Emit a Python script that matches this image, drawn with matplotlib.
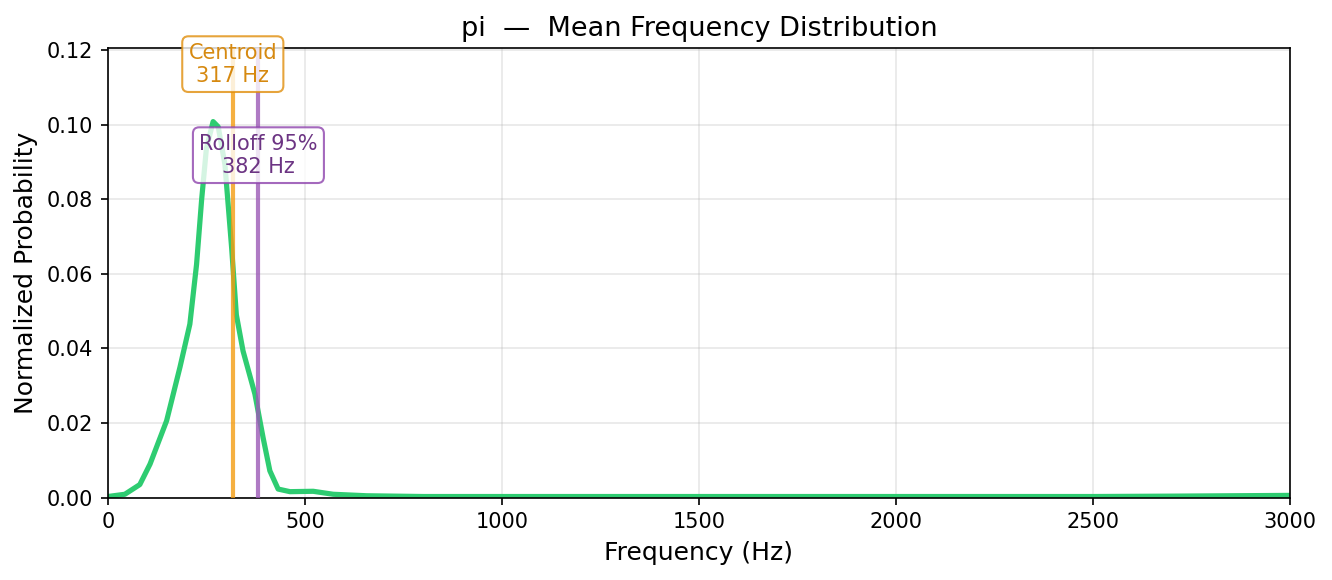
import matplotlib

matplotlib.use("Agg")
import matplotlib.pyplot as plt

# mean spectrum
freqs = [0, 43, 81, 107, 149, 183, 208, 225, 238, 250, 267, 280, 297, 314,
         326, 343, 373, 394, 411, 432, 462, 521, 572, 657, 800, 1000, 1500,
         2000, 2500, 2700, 3000]
probs = [0.0003, 0.0009, 0.0035, 0.009, 0.0206, 0.035, 0.0465, 0.0625, 0.080,
         0.0936, 0.1008, 0.0994, 0.0893, 0.067, 0.049, 0.0393, 0.0278, 0.016,
         0.0072, 0.0023, 0.0016, 0.0017, 0.0009, 0.0005, 0.0003, 0.0003,
         0.0003, 0.0003, 0.0003, 0.0004, 0.0006]
centroid = 317
rolloff = 382
title = "pi  —  Mean Frequency Distribution"

fig = plt.figure(figsize=(8.88, 3.867), dpi=150)
ax = fig.add_axes([0.081, 0.142, 0.8875, 0.775])

ax.plot(freqs, probs, color="#2ecc71", lw=2.5, zorder=2)
ax.axvline(centroid, color="#f39c12", lw=2, alpha=0.8, zorder=3)
ax.axvline(rolloff, color="#9b59b6", lw=2, alpha=0.8, zorder=3)

ax.text(centroid, 0.1162, f"Centroid\n{centroid} Hz", color="#d68910",
        ha="center", va="center", fontsize=10, zorder=5,
        bbox=dict(boxstyle="round,pad=0.3", fc="white", ec="#e08e0b",
                  alpha=0.8))
ax.text(rolloff, 0.0918, f"Rolloff 95%\n{rolloff} Hz", color="#6c3483",
        ha="center", va="center", fontsize=10, zorder=5,
        bbox=dict(boxstyle="round,pad=0.3", fc="white", ec="#8e44ad",
                  alpha=0.8))

ax.set_xlim(0, 3000)
ax.set_ylim(0, 0.1205)
ax.grid(alpha=0.3)
ax.set_xlabel("Frequency (Hz)", fontsize=12)
ax.set_ylabel("Normalized Probability", fontsize=12)
ax.set_title(title, fontsize=13)

fig.savefig("out.png", dpi=150)
